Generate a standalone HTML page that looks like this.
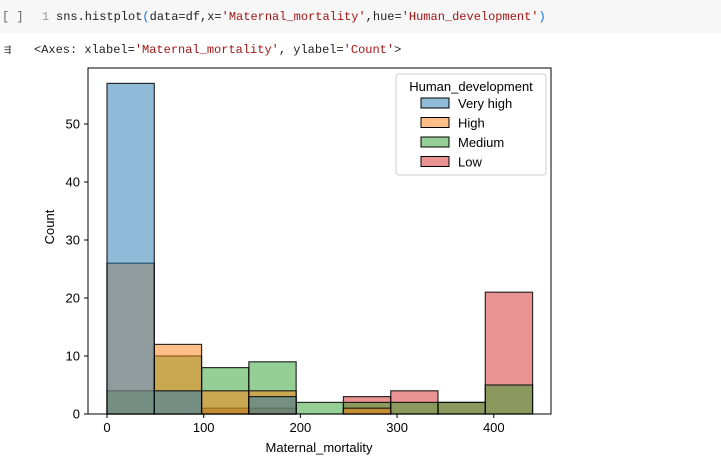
<!DOCTYPE html>
<html><head><meta charset="utf-8"><style>
body{margin:0;width:721px;height:468px;background:#fff;overflow:hidden;font-family:"Liberation Sans",sans-serif}
.cell{position:absolute;left:0;top:0;width:721px;height:33px;background:#f7f7f7}
.mono{font-family:"Liberation Mono",monospace;font-size:12px;position:absolute;white-space:pre}
</style></head><body>
<div class="cell"></div>
<div class="mono" style="left:2px;top:10px;color:#666">[ ]</div>
<div class="mono" style="left:42px;top:10px;color:#999">1</div>
<div class="mono" style="left:56px;top:10px;color:#222">sns.histplot<span style="color:#0a6ed1">(</span>data=df,x=<span style="color:#a31515">'Maternal_mortality'</span>,hue=<span style="color:#a31515">'Human_development'</span><span style="color:#0a6ed1">)</span></div>
<div class="mono" style="left:4px;top:42px;color:#555">⇶</div>
<div class="mono" style="left:34px;top:43px;color:#222">&lt;Axes: xlabel=<span style="color:#a31515">'Maternal_mortality'</span>, ylabel=<span style="color:#a31515">'Count'</span>&gt;</div>
<svg id="c" width="721" height="468" style="position:absolute;left:0;top:0" font-family="Liberation Sans, sans-serif"></svg>
<script>
const categories=["Very high","High","Medium","Low"];
const colors=["#1f77b4","#ff7f0e","#2ca02c","#d62728"];
const veryHigh=[57,4,0,3,0,0,0,0,0];
const high=[26,12,4,4,0,1,0,0,0];
const medium=[4,10,8,9,2,2,2,2,5];
const low=[0,0,1,1,0,3,4,2,21];
const binStart=0, binWidth=48.9;
const xTicks=[0,100,200,300,400];
const yTicks=[0,10,20,30,40,50];
const series=[veryHigh,high,medium,low];
const L=88,R=551,T=68,B=414;
const xs=v=>107+v*0.967;
const ys=v=>B-v*5.8;
const svg=document.getElementById('c');
const NS='http://www.w3.org/2000/svg';
function mk(t,a){const e=document.createElementNS(NS,t);for(const k in a)e.setAttribute(k,a[k]);svg.appendChild(e);return e;}
for(let si=series.length-1;si>=0;si--){const s=series[si];s.forEach((v,i)=>{if(!v)return;
 const x0=xs(binStart+i*binWidth),x1=xs(binStart+(i+1)*binWidth);
 const r=mk('rect',{x:x0,y:ys(v),width:x1-x0,height:ys(0)-ys(v),fill:colors[si],'fill-opacity':0.5,stroke:'#000','stroke-opacity':0.8,'stroke-width':1.2});
 
 
});}
const fr=mk('rect',{x:L,y:T,width:R-L,height:B-T,fill:'none',stroke:'#000','stroke-width':1});


xTicks.forEach(t=>{const x=xs(t);mk('line',{x1:x,x2:x,y1:B,y2:B+4,stroke:'#000'});
 const tx=mk('text',{x:x,y:B+18,'text-anchor':'middle','font-size':13,fill:'#000'});tx.textContent=t;
 
 });
yTicks.forEach(t=>{const y=ys(t);mk('line',{x1:L-4,x2:L,y1:y,y2:y,stroke:'#000'});
 const tx=mk('text',{x:L-8,y:y+4.5,'text-anchor':'end','font-size':13,fill:'#000'});tx.textContent=t;
 
 });
const xl=mk('text',{x:319,y:452,'text-anchor':'middle','font-size':13});xl.textContent='Maternal_mortality';


const yl=mk('text',{x:0,y:0,'text-anchor':'middle','font-size':13,transform:'translate(54,227) rotate(-90)'});yl.textContent='Count';


const lg=mk('rect',{x:396,y:74,width:150,height:101,rx:3,fill:'#fff','fill-opacity':0.8,stroke:'#ccc'});


const lt=mk('text',{x:471,y:91,'text-anchor':'middle','font-size':13});lt.textContent='Human_development';


categories.forEach((c,i)=>{const y=98+i*19.5;
 const sw=mk('rect',{x:421,y:y,width:28,height:10,fill:colors[i],'fill-opacity':0.5,stroke:'#000','stroke-width':1});
 
 
 const t=mk('text',{x:458,y:y+10,'font-size':13});t.textContent=c;
 
 });
</script>
</body></html>
